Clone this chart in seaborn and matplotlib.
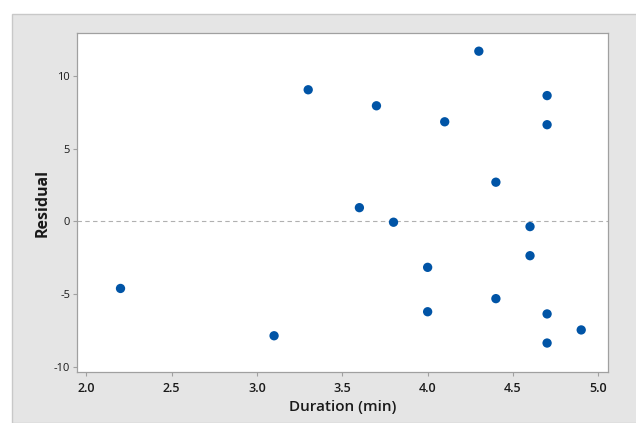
import matplotlib
matplotlib.use("Agg")
import matplotlib.pyplot as plt
import seaborn as sns
import pandas as pd
from matplotlib.patches import Rectangle

# Residuals vs duration
duration = [2.2, 3.1, 3.3, 3.6, 3.7, 3.8, 4.0, 4.0, 4.1, 4.3,
            4.4, 4.4, 4.6, 4.6, 4.7, 4.7, 4.7, 4.7, 4.9]
residual = [-4.6, -7.85, 9.05, 0.95, 7.95, -0.05, -3.15, -6.2, 6.85, 11.7,
            2.7, -5.3, -0.35, -2.35, 8.65, 6.65, -6.35, -8.35, -7.45]
x_ticks = [2.0, 2.5, 3.0, 3.5, 4.0, 4.5, 5.0]
y_ticks = [-10, -5, 0, 5, 10]

df = pd.DataFrame({"Duration (min)": duration, "Residual": residual})

sns.set_style("white")
plt.rcParams['font.family'] = ['Open Sans', 'DejaVu Sans']

fig = plt.figure(figsize=(6.36, 4.23), dpi=100)
fig.patch.set_facecolor("white")
# gray frame behind the plot, like Minitab
fig.patches.append(Rectangle((12 / 636, 0), 1, 1 - 14 / 423, transform=fig.transFigure,
                             facecolor="#e5e5e5", edgecolor="#c8c8c8", linewidth=1, zorder=-10))

ax = fig.add_axes([77 / 636, 1 - 372 / 423, (608 - 77) / 636, (372 - 33) / 423])
ax.set_facecolor("white")

ax.axhline(0, color="#b0b0b0", linestyle=(0, (4, 3)), linewidth=0.8, zorder=1)
sns.scatterplot(data=df, x="Duration (min)", y="Residual", ax=ax,
                color="#0054a6", s=45, edgecolor="none", zorder=3)

ax.set_xlim(1.945, 5.057)
ax.set_ylim(-10.34, 12.95)
ax.set_xticks(x_ticks)
ax.set_xticklabels([f"{t:.1f}" for t in x_ticks], fontsize=9, fontweight="semibold")
ax.set_yticks(y_ticks)
ax.set_yticklabels([str(t) for t in y_ticks], fontsize=8)

ax.tick_params(axis="both", direction="out", length=3, width=0.8, color="#a0a0a0",
               labelcolor="#1a1a1a", bottom=True, left=True, pad=2)
ax.tick_params(axis="x", pad=4)
for sp in ax.spines.values():
    sp.set_color("#a0a0a0")
    sp.set_linewidth(0.9)

ax.set_xlabel("Duration (min)", fontsize=11, fontweight="semibold", color="#1a1a1a", labelpad=4)
ax.set_ylabel("Residual", fontsize=11.5, fontweight="bold", color="#1a1a1a", labelpad=2)

fig.savefig("out.png", dpi=100)
